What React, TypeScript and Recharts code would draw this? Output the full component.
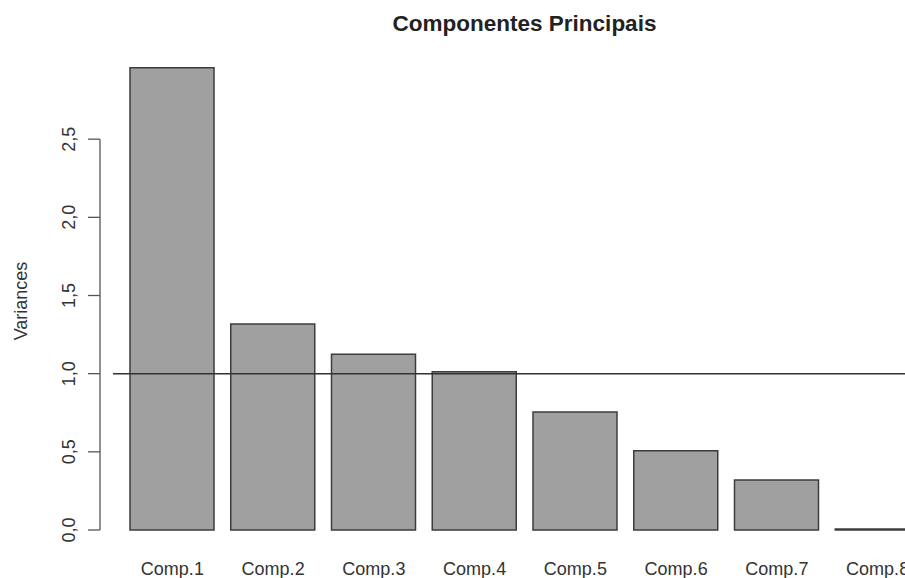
import { BarChart, Bar, XAxis, YAxis, ReferenceLine, Label } from 'recharts';

// PCA scree plot: variance of each principal component
const components = ['Comp.1', 'Comp.2', 'Comp.3', 'Comp.4', 'Comp.5', 'Comp.6', 'Comp.7', 'Comp.8'];
const variances = [2.957, 1.318, 1.124, 1.013, 0.755, 0.507, 0.32, 0.006];
const yTicks = [0, 0.5, 1, 1.5, 2, 2.5];
const cutoff = 1;

const data = components.map((name, i) => ({ name, variance: variances[i] }));

const CHART_W = 960;
const CHART_H = 578;
const TOP = 61;
const BOTTOM = 48;
const LEFT = 113;
const Y_MAX = 3;
const pxPerUnit = (CHART_H - TOP - BOTTOM) / Y_MAX;
const AXIS_X = 100;
const font = '"Liberation Sans", Arial, Helvetica, sans-serif';

const fmt = (v: number) => v.toFixed(1).replace('.', ',');

function YTick(props: any) {
  const { y, payload } = props;
  const v = payload.value as number;
  const lx = 75;
  return (
    <g>
      <line x1={AXIS_X - 12} x2={AXIS_X} y1={y} y2={y} stroke="#555" strokeWidth={1.3} />
      {v === 0 && (
        <line x1={AXIS_X} x2={AXIS_X} y1={y} y2={y - yTicks[yTicks.length - 1] * pxPerUnit} stroke="#555" strokeWidth={1.3} />
      )}
      <text x={lx} y={y} transform={`rotate(-90 ${lx} ${y})`} textAnchor="middle" fontFamily={font} fontSize={18} fill="#333">
        {fmt(v)}
      </text>
    </g>
  );
}

export default function App() {
  return (
    <div style={{ position: 'absolute', left: 0, top: 0, width: 905, height: 578, overflow: 'hidden', background: '#fff' }}>
      <div style={{ position: 'absolute', left: 0, top: 11, width: 1049, textAlign: 'center', fontFamily: font, fontWeight: 'bold', fontSize: 22.5, color: '#222' }}>
        Componentes Principais
      </div>
      <BarChart width={CHART_W} height={CHART_H} data={data} margin={{ top: TOP, right: 0, bottom: 0, left: 0 }}>
        <XAxis dataKey="name" height={BOTTOM} padding={{ left: 9, right: 32 }} axisLine={false} tickLine={false}
          tickSize={0} tickMargin={32} interval={0} tick={{ fontSize: 18, fill: '#333', fontFamily: font }} />
        <YAxis type="number" domain={[0, Y_MAX]} ticks={yTicks} width={LEFT} axisLine={false} tickLine={false}
          tickSize={0} tickMargin={0} interval={0} tick={(p: any) => <YTick {...p} />}>
          <Label content={() => (
            <text x={27} y={301} transform="rotate(-90 27 301)" textAnchor="middle" fontFamily={font} fontSize={18} fill="#333">
              Variances
            </text>
          )} />
        </YAxis>
        <Bar dataKey="variance" barSize={84} fill="#a0a0a0" stroke="#3c3c3c" strokeWidth={1.5} isAnimationActive={false} />
        <ReferenceLine y={cutoff} stroke="#333" strokeWidth={1.5} />
      </BarChart>
    </div>
  );
}
